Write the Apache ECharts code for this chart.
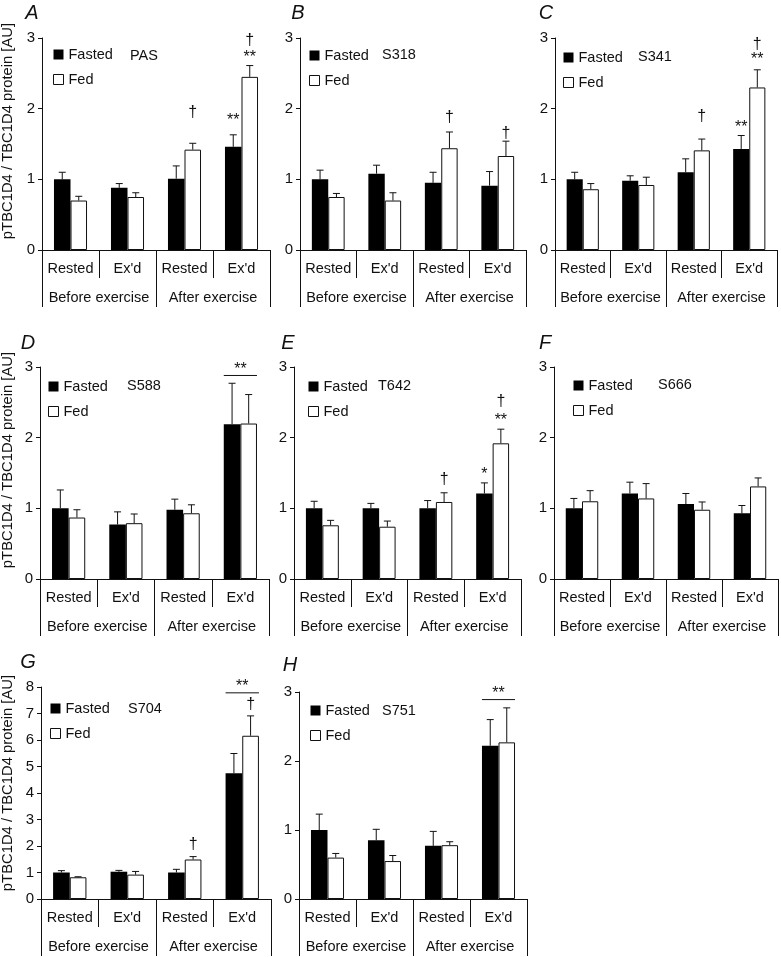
<!DOCTYPE html>
<html>
<head>
<meta charset="utf-8">
<script src="https://cdn.jsdelivr.net/npm/echarts@6/dist/echarts.min.js"></script>
<style>
  html, body { margin: 0; padding: 0; background: #fff; }
  #main { width: 781px; height: 957px; }
</style>
</head>
<body>
<div id="main"></div>
<script>
// categories
var subCats = ['Rested', "Ex'd", 'Rested', "Ex'd"];
var mainCats = ['Before exercise', 'After exercise'];
var yLabel = 'pTBC1D4 / TBC1D4 protein [AU]';

// marks: [category, 0 = Fasted / 1 = Fed, text, height of the mark]

// A - PAS
var pasFasted = [1.00, 0.88, 1.01, 1.46];
var pasFastedSE = [0.10, 0.06, 0.18, 0.17];
var pasFed = [0.70, 0.75, 1.42, 2.45];
var pasFedSE = [0.06, 0.06, 0.09, 0.16];
var pasMarks = [[3, 0, '**', 1.88], [2, 1, '†', 1.94], [3, 1, '**', 2.76], [3, 1, '†', 2.97]];

// B - S318
var s318Fasted = [1.00, 1.08, 0.95, 0.91];
var s318FastedSE = [0.13, 0.12, 0.15, 0.20];
var s318Fed = [0.75, 0.70, 1.44, 1.33];
var s318FedSE = [0.05, 0.11, 0.23, 0.21];
var s318Marks = [[2, 1, '†', 1.87], [3, 1, '†', 1.65]];

// C - S341
var s341Fasted = [1.00, 0.98, 1.10, 1.43];
var s341FastedSE = [0.10, 0.07, 0.19, 0.19];
var s341Fed = [0.86, 0.92, 1.41, 2.30];
var s341FedSE = [0.08, 0.11, 0.16, 0.25];
var s341Marks = [[3, 0, '**', 1.78], [2, 1, '†', 1.89], [3, 1, '**', 2.73], [3, 1, '†', 2.90]];

// D - S588
var s588Fasted = [1.00, 0.77, 0.98, 2.19];
var s588FastedSE = [0.26, 0.18, 0.15, 0.58];
var s588Fed = [0.87, 0.79, 0.93, 2.20];
var s588FedSE = [0.11, 0.13, 0.12, 0.41];
var s588Bracket = [3, 2.88];

// E - T642
var t642Fasted = [1.00, 1.00, 1.00, 1.21];
var t642FastedSE = [0.10, 0.07, 0.11, 0.15];
var t642Fed = [0.76, 0.74, 1.09, 1.92];
var t642FedSE = [0.07, 0.08, 0.13, 0.20];
var t642Marks = [[3, 0, '*', 1.52], [2, 1, '†', 1.40], [3, 1, '**', 2.29], [3, 1, '†', 2.51]];

// F - S666
var s666Fasted = [1.00, 1.21, 1.06, 0.93];
var s666FastedSE = [0.14, 0.16, 0.15, 0.11];
var s666Fed = [1.10, 1.14, 0.98, 1.31];
var s666FedSE = [0.15, 0.21, 0.11, 0.12];

// G - S704
var s704Fasted = [1.00, 1.03, 1.00, 4.75];
var s704FastedSE = [0.07, 0.05, 0.12, 0.74];
var s704Fed = [0.82, 0.92, 1.49, 6.16];
var s704FedSE = [0.02, 0.12, 0.11, 0.75];
var s704Marks = [[2, 1, '†', 2.04], [3, 1, '†', 7.32]];
var s704Bracket = [3, 7.78];

// H - S751
var s751Fasted = [1.00, 0.85, 0.77, 2.22];
var s751FastedSE = [0.23, 0.16, 0.21, 0.38];
var s751Fed = [0.60, 0.55, 0.78, 2.27];
var s751FedSE = [0.06, 0.08, 0.05, 0.50];
var s751Bracket = [3, 2.89];

var FONT = '"Liberation Sans", Arial, Helvetica, sans-serif';
var INK = '#111';
var BAR = 0.29; // bar width as part of a category

var panels = [
  { letter: 'A', site: 'PAS', fasted: pasFasted, fastedSE: pasFastedSE, fed: pasFed, fedSE: pasFedSE,
    marks: pasMarks, bracket: null, yMax: 3, yStep: 1,
    rect: [42, 38, 228, 212], letterAt: [32, 13], siteAt: [130, 56], legendAt: [53, 47], yLabelY: 131 },
  { letter: 'B', site: 'S318', fasted: s318Fasted, fastedSE: s318FastedSE, fed: s318Fed, fedSE: s318FedSE,
    marks: s318Marks, bracket: null, yMax: 3, yStep: 1,
    rect: [300, 38, 226, 212], letterAt: [298, 13], siteAt: [382, 55], legendAt: [309, 48] },
  { letter: 'C', site: 'S341', fasted: s341Fasted, fastedSE: s341FastedSE, fed: s341Fed, fedSE: s341FedSE,
    marks: s341Marks, bracket: null, yMax: 3, yStep: 1,
    rect: [555, 38, 222, 212], letterAt: [546, 13], siteAt: [638, 57], legendAt: [563, 50] },
  { letter: 'D', site: 'S588', fasted: s588Fasted, fastedSE: s588FastedSE, fed: s588Fed, fedSE: s588FedSE,
    marks: [], bracket: s588Bracket, yMax: 3, yStep: 1,
    rect: [40, 367, 229, 212], letterAt: [28, 343], siteAt: [127, 386], legendAt: [48, 379], yLabelY: 460 },
  { letter: 'E', site: 'T642', fasted: t642Fasted, fastedSE: t642FastedSE, fed: t642Fed, fedSE: t642FedSE,
    marks: t642Marks, bracket: null, yMax: 3, yStep: 1,
    rect: [294, 367, 227, 212], letterAt: [288, 343], siteAt: [378, 386], legendAt: [308, 379] },
  { letter: 'F', site: 'S666', fasted: s666Fasted, fastedSE: s666FastedSE, fed: s666Fed, fedSE: s666FedSE,
    marks: [], bracket: null, yMax: 3, yStep: 1,
    rect: [554, 367, 224, 212], letterAt: [545, 343], siteAt: [658, 385], legendAt: [573, 378] },
  { letter: 'G', site: 'S704', fasted: s704Fasted, fastedSE: s704FastedSE, fed: s704Fed, fedSE: s704FedSE,
    marks: s704Marks, bracket: s704Bracket, yMax: 8, yStep: 1,
    rect: [41, 687, 230, 212], letterAt: [28, 662], siteAt: [128, 709], legendAt: [50, 701], yLabelY: 783 },
  { letter: 'H', site: 'S751', fasted: s751Fasted, fastedSE: s751FastedSE, fed: s751Fed, fedSE: s751FedSE,
    marks: [], bracket: s751Bracket, yMax: 3, yStep: 1,
    rect: [299, 692, 228, 207], letterAt: [290, 665], siteAt: [382, 711], legendAt: [310, 703] }
];

function txt(x, y, s, size, extra) {
  var st = { text: s, fill: INK, font: size + 'px ' + FONT, align: 'center', verticalAlign: 'middle',
             textAlign: 'center', textVerticalAlign: 'middle' };
  if (extra) for (var k in extra) st[k] = extra[k];
  return { type: 'text', x: x, y: y, style: st };
}

// error bar, upwards only
function errRender(side, se) {
  return function (params, api) {
    var cat = api.value(0), v = api.value(1);
    var band = api.size([1, 0])[0];
    var base = api.coord([cat, v]);
    var x = base[0] + side * band * BAR / 2;
    var y1 = api.coord([cat, v + se[params.dataIndex]])[1];
    return { type: 'group', children: [
      { type: 'line', shape: { x1: x, y1: base[1], x2: x, y2: y1 }, style: { stroke: INK, lineWidth: 1 } },
      { type: 'line', shape: { x1: x - 3.5, y1: y1, x2: x + 3.5, y2: y1 }, style: { stroke: INK, lineWidth: 1 } }
    ] };
  };
}

// significance marks (* ** †) over single bars
function markRender(marks) {
  return function (params, api) {
    var m = marks[params.dataIndex];
    var band = api.size([1, 0])[0];
    var c = api.coord([api.value(0), api.value(1)]);
    var x = c[0] + (api.value(2) ? 1 : -1) * band * BAR / 2;
    // asterisks sit high in the text box, shift them down a little
    var dy = m[2].indexOf('*') >= 0 ? 3 : 0;
    return txt(x, c[1] + dy, m[2], 16);
  };
}

function bracketRender(params, api) {
  var c = api.coord([api.value(0), api.value(1)]);
  var half = api.size([1, 0])[0] * BAR;
  return { type: 'group', children: [
    { type: 'line', shape: { x1: c[0] - half, y1: c[1], x2: c[0] + half, y2: c[1] }, style: { stroke: INK, lineWidth: 1 } },
    txt(c[0], c[1] - 6, '**', 16)
  ] };
}

var grids = [], xAxes = [], yAxes = [], series = [], legends = [], graphics = [];

panels.forEach(function (p, k) {
  var g = 2 * k;
  var r = p.rect;
  var gr = { left: r[0], top: r[1], width: r[2], height: r[3], containLabel: false, outerBoundsMode: 'none' };
  grids.push(gr, Object.assign({}, gr));

  xAxes.push({
    gridIndex: g, type: 'category', data: subCats,
    axisLine: { lineStyle: { color: INK, width: 1 } },
    axisTick: { show: true, interval: 0, length: 28, lineStyle: { color: INK } },
    axisLabel: { interval: 0, margin: 11, fontSize: 14.5, fontFamily: FONT, color: INK }
  }, {
    gridIndex: g + 1, type: 'category', data: mainCats,
    axisLine: { lineStyle: { color: INK, width: 1 } },
    axisTick: { show: true, interval: 0, length: 57, lineStyle: { color: INK } },
    axisLabel: { interval: 0, margin: 40, fontSize: 14.5, fontFamily: FONT, color: INK }
  });

  yAxes.push({
    gridIndex: g, type: 'value', min: 0, max: p.yMax, interval: p.yStep,
    axisLine: { show: true, lineStyle: { color: INK, width: 1 } },
    axisTick: { show: true, length: 4, lineStyle: { color: INK } },
    splitLine: { show: false },
    axisLabel: { margin: 7, fontSize: 15, fontFamily: FONT, color: INK }
  }, { gridIndex: g + 1, type: 'value', show: false });

  series.push({
    name: 'Fasted', type: 'bar', xAxisIndex: g, yAxisIndex: g,
    barWidth: (BAR * 100) + '%', barGap: '0%',
    itemStyle: { color: '#000' }, data: p.fasted, silent: true
  }, {
    name: 'Fed', type: 'bar', xAxisIndex: g, yAxisIndex: g,
    barWidth: (BAR * 100) + '%', barGap: '0%',
    itemStyle: { color: '#fff', borderColor: INK, borderWidth: 1 }, data: p.fed, silent: true
  }, {
    type: 'custom', xAxisIndex: g, yAxisIndex: g, silent: true, z: 5,
    renderItem: errRender(-1, p.fastedSE),
    data: p.fasted.map(function (v, i) { return [i, v]; })
  }, {
    type: 'custom', xAxisIndex: g, yAxisIndex: g, silent: true, z: 5,
    renderItem: errRender(1, p.fedSE),
    data: p.fed.map(function (v, i) { return [i, v]; })
  });
  if (p.marks.length) {
    series.push({
      type: 'custom', xAxisIndex: g, yAxisIndex: g, silent: true, z: 6,
      renderItem: markRender(p.marks),
      data: p.marks.map(function (m) { return [m[0], m[3], m[1]]; })
    });
  }
  if (p.bracket) {
    series.push({
      type: 'custom', xAxisIndex: g, yAxisIndex: g, silent: true, z: 5,
      renderItem: bracketRender, data: [p.bracket]
    });
  }

  legends.push({
    left: p.legendAt[0], top: p.legendAt[1], orient: 'vertical', padding: 0,
    itemWidth: 10, itemHeight: 10, itemGap: 10, selectedMode: false,
    textStyle: { fontSize: 14.5, fontFamily: FONT, color: INK },
    data: [
      { name: 'Fasted', icon: 'rect', itemStyle: { color: '#000' } },
      { name: 'Fed', icon: 'rect', itemStyle: { color: '#fff', borderColor: INK, borderWidth: 1 } }
    ]
  });

  graphics.push(txt(p.letterAt[0], p.letterAt[1], p.letter, 20, { font: 'italic 20px ' + FONT }));
  graphics.push(txt(p.siteAt[0], p.siteAt[1], p.site, 14.5, { align: 'left', textAlign: 'left' }));
  if (p.yLabelY) {
    var lab = txt(7.5, p.yLabelY, yLabel, 14.8);
    lab.rotation = Math.PI / 2;
    graphics.push(lab);
  }
});

var chart = echarts.init(document.getElementById('main'));
chart.setOption({
  animation: false,
  backgroundColor: '#fff',
  grid: grids,
  xAxis: xAxes,
  yAxis: yAxes,
  legend: legends,
  graphic: { elements: graphics },
  series: series
});
</script>
</body>
</html>
